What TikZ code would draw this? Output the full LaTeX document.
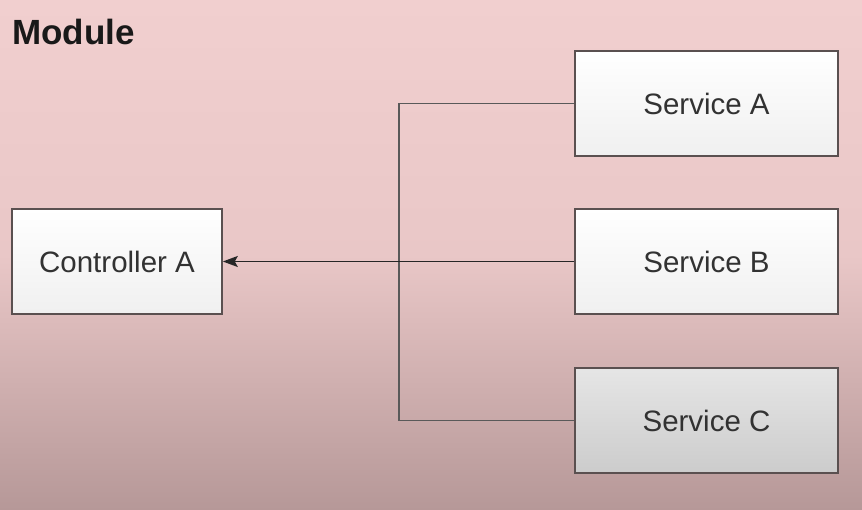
\documentclass[tikz,border=0pt]{standalone}
\usepackage{fontspec}
\setmainfont{Liberation Sans}
\usetikzlibrary{arrows.meta}
\definecolor{bgTop}{RGB}{241,207,207}
\definecolor{bgMid}{RGB}{233,199,199}
\definecolor{bgBot}{RGB}{182,152,152}
\definecolor{boxLine}{RGB}{90,80,80}
\definecolor{txtGray}{RGB}{50,50,50}

\begin{document}
\begin{tikzpicture}[x=1pt,y=-1pt,
    box/.style={rectangle,draw=boxLine,line width=1.6pt,
      top color=white,bottom color=black!6,
      minimum width=263pt,minimum height=105pt,inner sep=0pt,
      text=txtGray,font=\fontsize{29.5}{32}\selectfont},
    wire/.style={draw=black!65,line width=1.8pt}]

    % Background
    \shade[top color=bgTop,bottom color=bgMid] (0,0) rectangle (862,256);
    \shade[top color=bgMid,bottom color=bgBot] (0,255) rectangle (862,510);
    \useasboundingbox (0,0) rectangle (862,510);

    % Title
    \node[anchor=base west,inner sep=0pt,text=black!90,
      font=\bfseries\fontsize{35}{37}\selectfont] (title) at (12,45) {Module};

    % Controller
    \node[box,minimum width=210pt] (ctrlA) at (117,261.5) {Controller A};

    % Services
    \node[box] (svcA) at (706.5,103.5) {Service A};
    \node[box] (svcB) at (706.5,261.5) {Service B};
    \node[box,top color=black!10,bottom color=black!20] (svcC) at (706.5,420.5) {Service C};

    % Bus
    \coordinate (bus) at (399,0);
    \draw[wire] (svcA.west) -- (svcA.west -| bus) -- (svcC.west -| bus) -- (svcC.west);

    % Injection into the controller
    \draw[wire,draw=black!85,-{Stealth[length=15pt,width=11pt,inset=3pt]}] (svcB.west) -- (ctrlA.east);

  \end{tikzpicture}
\end{document}
